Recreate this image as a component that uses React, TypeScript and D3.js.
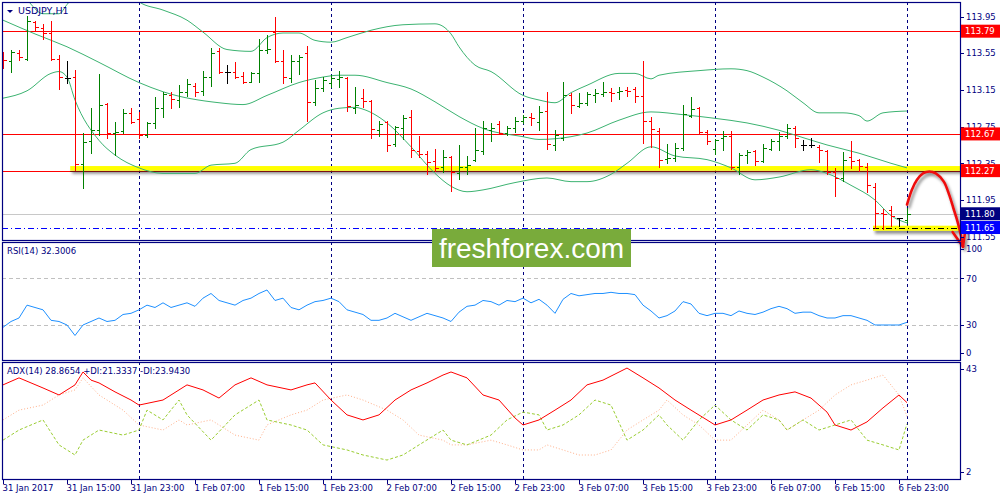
import React from "react";
import * as d3 from "d3";

// ---------- DATA ----------
const barOpen = [113.53,113.46,113.55,113.49,113.89,113.82,113.77,113.49,113.28,113.29,112.34,112.59,112.71,113.00,112.68,112.70,112.90,112.83,112.66,112.79,112.95,113.09,113.04,113.13,113.19,113.14,113.29,113.57,113.34,113.34,113.30,113.24,113.33,113.59,113.785,113.46,113.28,113.46,113.55,113.02,113.17,113.22,113.27,113.28,112.95,113.06,113.03,112.71,112.80,112.56,112.74,112.86,112.48,112.45,112.37,112.31,112.42,112.24,112.31,112.39,112.48,112.71,112.78,112.68,112.73,112.81,112.86,112.80,112.92,112.55,112.63,113.09,112.97,113.01,113.09,113.11,113.13,113.13,113.15,113.16,113.08,112.81,112.705,112.40,112.41,112.52,112.87,112.95,112.69,112.51,112.63,112.65,112.31,112.44,112.48,112.38,112.51,112.59,112.65,112.73,112.55,112.55,112.53,112.48,112.25,112.19,112.42,112.39,112.31,112.095,111.805,111.84,111.75,111.73];
const barHigh = [113.56,113.59,113.59,113.96,113.90,113.87,113.90,113.53,113.47,113.37,112.68,112.95,113.32,113.01,112.80,112.94,112.95,112.91,112.80,113.07,113.13,113.13,113.20,113.27,113.23,113.36,113.61,113.61,113.42,113.45,113.35,113.34,113.71,113.75,113.94,113.59,113.53,113.53,113.63,113.26,113.29,113.31,113.36,113.29,113.18,113.16,113.04,112.81,112.81,112.76,112.88,112.93,112.65,112.48,112.51,112.49,112.43,112.55,112.43,112.73,112.81,112.79,112.81,112.76,112.85,112.88,112.90,112.97,113.13,112.71,113.24,113.12,113.12,113.13,113.16,113.24,113.17,113.18,113.18,113.18,113.46,112.86,112.73,112.56,112.575,112.99,113.07,112.96,112.71,112.61,112.705,112.705,112.46,112.49,112.49,112.56,112.61,112.695,112.78,112.76,112.60,112.63,112.55,112.49,112.30,112.47,112.59,112.40,112.35,112.14,111.85,111.88,111.75,111.86];
const barLow = [113.39,113.34,113.48,113.48,113.80,113.71,113.48,113.16,113.23,112.28,112.08,112.46,112.66,112.63,112.44,112.68,112.79,112.63,112.64,112.73,112.86,112.95,112.96,113.08,113.08,113.09,113.19,113.33,113.23,113.28,113.23,113.24,113.24,113.55,113.45,113.23,113.24,113.32,112.81,112.99,113.14,113.18,113.18,112.92,112.90,112.96,112.63,112.65,112.48,112.54,112.62,112.42,112.42,112.23,112.27,112.26,112.05,112.18,112.23,112.37,112.45,112.59,112.67,112.66,112.69,112.79,112.77,112.71,112.51,112.50,112.60,112.90,112.96,112.99,113.02,113.08,113.03,113.05,113.08,113.02,112.575,112.53,112.31,112.35,112.38,112.49,112.85,112.68,112.56,112.45,112.49,112.285,112.23,112.35,112.33,112.36,112.49,112.49,112.63,112.525,112.50,112.525,112.36,112.23,111.99,112.16,112.30,112.27,112.04,111.64,111.63,111.67,111.67,111.70];
const barClose = [113.48,113.56,113.51,113.90,113.84,113.77,113.49,113.29,113.28,112.34,112.58,112.71,112.99,112.68,112.69,112.90,112.80,112.66,112.79,112.95,113.11,113.05,113.13,113.21,113.13,113.29,113.55,113.34,113.34,113.29,113.24,113.33,113.59,113.60,113.46,113.29,113.46,113.51,113.02,113.17,113.26,113.28,113.29,112.97,112.99,113.03,112.72,112.78,112.55,112.75,112.84,112.49,112.45,112.36,112.30,112.42,112.25,112.31,112.33,112.50,112.73,112.74,112.68,112.73,112.81,112.86,112.84,112.91,112.56,112.66,113.09,112.99,113.01,113.11,113.12,113.13,113.12,113.14,113.14,113.08,112.81,112.72,112.39,112.41,112.52,112.89,112.94,112.69,112.59,112.60,112.65,112.31,112.44,112.47,112.38,112.52,112.59,112.65,112.73,112.63,112.55,112.55,112.49,112.25,112.19,112.39,112.37,112.32,112.11,111.81,111.80,111.78,111.75,111.80];

// Bollinger bands (bar index, price)
const bbUpper: [number, number][] = [[0,114.40],[3,114.13],[5,113.98],[7,113.98],[8,114.08],[10,114.29],[14,114.40],[17,114.11],[20,114.02],[23,113.91],[25,113.78],[28,113.59],[31,113.57],[33,113.72],[35,113.77],[37,113.77],[39,113.69],[41,113.67],[43,113.72],[46,113.80],[50,113.86],[54,113.87],[56,113.76],[57,113.62],[59,113.42],[61,113.35],[65,113.09],[67,113.04],[69,113.01],[71,113.12],[73,113.20],[77,113.33],[79,113.33],[81,113.27],[82,113.31],[87,113.36],[91,113.38],[93,113.36],[95,113.29],[98,113.14],[100,113.01],[102,112.90],[105,112.90],[107,112.87],[108,112.81],[110,112.90],[113,112.92]];
const bbMiddle: [number, number][] = [[0,113.91],[4,113.76],[8,113.62],[12,113.45],[17,113.23],[20,113.13],[27,113.01],[30,112.99],[33,113.09],[37,113.23],[40,113.29],[42,113.31],[44,113.31],[48,113.23],[51,113.16],[54,113.02],[57,112.86],[60,112.73],[65,112.64],[67,112.61],[71,112.64],[73,112.68],[77,112.82],[81,112.91],[85,112.88],[89,112.84],[93,112.79],[97,112.71],[100,112.63],[103,112.55],[107,112.46],[111,112.35],[113,112.30]];
const bbLower: [number, number][] = [[0,113.06],[3,113.14],[6,113.33],[7,113.35],[8,113.29],[9,113.04],[12,112.60],[14,112.44],[17,112.30],[20,112.24],[24,112.24],[26,112.33],[29,112.35],[31,112.50],[35,112.58],[37,112.71],[40,112.90],[42,112.95],[44,112.96],[45,112.94],[48,112.79],[51,112.53],[54,112.24],[56,112.10],[58,112.04],[60,112.06],[64,112.14],[68,112.19],[71,112.15],[73,112.15],[76,112.23],[78,112.35],[81,112.53],[84,112.43],[88,112.39],[91,112.30],[94,112.17],[97,112.20],[101,112.28],[103,112.24],[106,112.11],[109,111.95],[111,111.78],[113,111.70]];

const rsiValues = [28,33,36,47,45,43,34,33,30,21,30,33,36,33,34,39,40,43,47,45,49,45,47,49,46,53,57,51,49,47,51,53,57,60,51,53,45,43,47,50,51,53,50,43,41,39,34,34,36,40,37,34,37,40,38,36,33,41,46,47,51,50,47,51,50,53,49,52,47,40,52,57,55,56,57,57,58,57,57,56,47,42,36,38,42,50,48,40,38,40,40,38,42,40,39,41,44,46,44,40,41,41,38,36,36,38,38,36,34,30,30,30,30,32.3];

const adxPts: [number, number][] = [[0,35.2],[2,37.7],[5,34.1],[7,31.6],[9,35.2],[10,39.8],[11,36.9],[12,35.9],[14,32.7],[16,29.8],[17,28.0],[20,29.8],[22,33.4],[23,35.2],[25,33.4],[27,30.5],[29,35.2],[31,37.7],[33,35.2],[36,33.4],[38,35.2],[39,35.9],[41,29.8],[43,24.5],[45,22.7],[47,24.5],[49,29.8],[51,33.4],[53,35.9],[55,38.7],[56,39.8],[58,37.7],[60,31.6],[62,29.8],[64,23.4],[65,20.9],[67,22.7],[69,26.2],[71,29.8],[73,35.2],[75,36.9],[78,41.2],[80,37.7],[82,34.1],[84,29.8],[86,26.2],[88,22.7],[89,20.9],[91,22.7],[93,26.2],[95,29.8],[97,31.6],[99,32.7],[101,30.5],[103,25.5],[104,20.9],[106,19.1],[108,22.0],[110,27.0],[112,31.6],[113,28.87]];
const plusDiPts: [number, number][] = [[0,15.5],[2,19.1],[5,22.7],[7,13.8],[9,10.2],[10,15.5],[12,19.1],[15,17.3],[17,19.1],[18,26.2],[20,22.7],[22,29.8],[23,24.5],[26,15.5],[29,24.5],[32,29.8],[33,22.7],[36,20.9],[38,19.1],[40,13.8],[43,12.0],[45,10.2],[48,8.4],[50,10.2],[52,13.8],[55,19.1],[56,15.5],[58,13.8],[61,17.3],[63,22.7],[65,25.5],[67,24.5],[68,19.1],[70,20.9],[72,24.5],[74,29.8],[76,28.0],[78,15.5],[80,19.1],[82,24.5],[83,20.9],[85,15.5],[87,22.7],[89,28.0],[91,22.7],[93,19.1],[95,24.5],[97,22.7],[98,19.1],[100,22.7],[102,19.1],[104,20.9],[106,22.7],[108,15.5],[110,13.8],[112,12.0],[113,21.33]];
const minusDiPts: [number, number][] = [[0,22.7],[2,26.2],[5,28.0],[7,31.6],[9,33.4],[10,37.7],[12,31.6],[15,26.2],[17,20.9],[20,19.1],[22,22.7],[23,20.9],[26,22.7],[29,17.3],[32,15.5],[33,20.9],[36,24.5],[38,26.2],[40,29.8],[43,31.6],[45,29.8],[48,26.2],[50,22.7],[52,17.3],[55,15.5],[56,13.8],[58,13.8],[61,15.5],[63,13.8],[65,12.0],[67,12.0],[68,13.8],[70,12.0],[72,10.2],[74,10.2],[76,12.0],[78,19.1],[80,22.7],[82,26.2],[83,29.8],[85,24.5],[87,20.9],[89,15.5],[91,15.5],[93,20.9],[95,26.2],[97,22.7],[98,19.1],[100,22.7],[102,26.2],[104,31.6],[106,35.2],[108,36.9],[110,38.7],[112,31.6],[113,23.94]];

const timeLabels = ["31 Jan 2017","31 Jan 15:00","31 Jan 23:00","1 Feb 07:00","1 Feb 15:00","1 Feb 23:00","2 Feb 07:00","2 Feb 15:00","2 Feb 23:00","3 Feb 07:00","3 Feb 15:00","3 Feb 23:00","6 Feb 07:00","6 Feb 15:00","6 Feb 23:00"];
const timeLabelStep = 8;
const daySeparators = [17, 41, 65, 89, 113];
const priceTicks = [113.95, 113.55, 113.15, 112.75, 112.35, 111.95, 111.55];
const redLevels = [113.79, 112.67, 112.27];
const bidPrice = 111.80;
const supportLevel = 111.65;
const rsiLevels = [70, 30];
const rsiTicks = [100, 70, 30, 0];
const adxTicks = [43, 2];
const zones = [
  { from: 8.4, to: 121, top: 112.32, bottom: 112.27 },
  { from: 108.75, to: 121, top: 111.67, bottom: 111.615 },
];
// hand-drawn forecast arrow (bar index, price)
const arrowPath: [number, number][] = [[113, 111.90], [113.6, 112.06], [114.25, 112.17], [115, 112.24], [115.8, 112.26], [116.6, 112.24], [117.6, 112.15], [118.3, 112.00], [118.8, 111.86], [119.3, 111.72], [119.75, 111.56], [120, 111.44]];
const arrowHead: [number, number][] = [[118.7, 111.60], [120, 111.44], [120.35, 111.66]];

// ---------- LAYOUT ----------
const W = 1000, H = 500;
const L = 2, R = 960;
const mainTop = 2, mainBot = 240;
const rsiTop = 242, rsiBot = 360;
const adxTop = 362, adxBot = 479;
const FONT = "DejaVu Sans, Verdana, sans-serif";
const NAVY = "#000080";

export default function App() {
  const x = d3.scaleLinear().domain([0, 113]).range([3, 907]);
  const yP = d3.scaleLinear().domain([111.55, 113.95]).range([236.7, 16.5]);
  const yR = d3.scaleLinear().domain([0, 100]).range([360, 243.3]);
  const yA = d3.scaleLinear().domain([2, 43]).range([478, 363]);

  const bbLine = d3.line<[number, number]>().x(d => x(d[0])).y(d => yP(d[1])).curve(d3.curveMonotoneX);
  const rsiLine = d3.line<number>().x((_, i) => x(i)).y(d => yR(d));
  const adxLine = d3.line<[number, number]>().x(d => x(d[0])).y(d => yA(d[1]));
  const arrowLine = d3.line<[number, number]>().x(d => x(d[0])).y(d => yP(d[1])).curve(d3.curveCatmullRom);
  const headLine = d3.line<[number, number]>().x(d => x(d[0])).y(d => yP(d[1]));

  const clampLabel = (v: number, top: number, bot: number) => Math.max(top + 7, Math.min(bot - 7, v));
  const px = (v: number) => Math.round(v) + 0.5;

  const boxLabel = (price: number, fill: string, key: string) => {
    const cy = yP(price);
    return (
      <g key={key}>
        <rect x={961} y={cy - 6.5} width={39} height={13} fill={fill} />
        <text x={965} y={cy + 3.2} fill="#fff" fontSize={8.5} fontFamily={FONT}>{price.toFixed(2)}</text>
      </g>
    );
  };

  return (
    <svg width={W} height={H} style={{ position: "absolute", left: 0, top: 0, background: "#fff" }}>
      <defs>
        <clipPath id="cMain"><rect x={L} y={mainTop} width={R - L} height={mainBot - mainTop} /></clipPath>
        <clipPath id="cRsi"><rect x={L} y={rsiTop} width={R - L} height={rsiBot - rsiTop} /></clipPath>
        <clipPath id="cAdx"><rect x={L} y={adxTop} width={R - L} height={adxBot - adxTop} /></clipPath>
        <filter id="shadow" x="-10%" y="-50%" width="130%" height="300%">
          <feDropShadow dx={2} dy={3} stdDeviation={1.6} floodColor="#000" floodOpacity={0.45} />
        </filter>
      </defs>
      <rect x={0} y={0} width={W} height={H} fill="#fff" />

      {/* day separators */}
      {daySeparators.map(d => (
        <line key={"ds" + d} x1={px(x(d))} x2={px(x(d))} y1={mainTop} y2={adxBot} stroke={NAVY} strokeDasharray="3,3" strokeWidth={1} />
      ))}

      {/* MAIN PANEL */}
      <g clipPath="url(#cMain)">
        <line x1={L} x2={R} y1={px(yP(bidPrice))} y2={px(yP(bidPrice))} stroke="#c8c8c8" />
        {redLevels.map(v => (
          <line key={"rl" + v} x1={L} x2={R} y1={px(yP(v))} y2={px(yP(v))} stroke="#ff0000" strokeWidth={1} />
        ))}
        {zones.map((z, i) => (
          <rect key={"z" + i} x={x(z.from)} y={yP(z.top)} width={x(z.to) - x(z.from)} height={yP(z.bottom) - yP(z.top)} fill="#ffff00" filter="url(#shadow)" />
        ))}
        <line x1={x(zones[0].from)} x2={R} y1={px(yP(redLevels[2]))} y2={px(yP(redLevels[2]))} stroke="#7a1010" strokeWidth={1} />
        <line x1={L} x2={x(zones[1].from)} y1={px(yP(supportLevel))} y2={px(yP(supportLevel))} stroke="#0000ff" strokeDasharray="6,3,1,3" />
        <line x1={x(zones[1].from)} x2={R} y1={px(yP(supportLevel))} y2={px(yP(supportLevel))} stroke="#000" strokeDasharray="6,3,1,3" />

        <path d={bbLine(bbUpper) || ""} fill="none" stroke="#3cb371" strokeWidth={1} />
        <path d={bbLine(bbMiddle) || ""} fill="none" stroke="#3cb371" strokeWidth={1} />
        <path d={bbLine(bbLower) || ""} fill="none" stroke="#3cb371" strokeWidth={1} />

        {barOpen.map((o, i) => {
          const c = barClose[i];
          const col = c > o ? "#008000" : c < o ? "#ff0000" : "#000000";
          const cx = px(x(i));
          return (
            <g key={"b" + i} stroke={col} strokeWidth={1} shapeRendering="crispEdges">
              <line x1={cx} x2={cx} y1={yP(barHigh[i])} y2={yP(barLow[i]) + 1} />
              <line x1={cx - 3} x2={cx} y1={px(yP(o))} y2={px(yP(o))} />
              <line x1={cx} x2={cx + 3} y1={px(yP(c))} y2={px(yP(c))} />
            </g>
          );
        })}
      </g>

      {/* forecast arrow */}
      <g filter="url(#shadow)">
        <path d={arrowLine(arrowPath) || ""} fill="none" stroke="#ee1111" strokeWidth={2.6} strokeLinecap="round" />
        <path d={headLine(arrowHead) || ""} fill="none" stroke="#ee1111" strokeWidth={2.6} strokeLinecap="round" strokeLinejoin="round" />
      </g>

      {/* RSI PANEL */}
      {rsiLevels.map(v => (
        <line key={"rsl" + v} x1={L} x2={R} y1={px(yR(v))} y2={px(yR(v))} stroke="#c0c0c0" strokeDasharray="4,3" />
      ))}
      <g clipPath="url(#cRsi)">
        <path d={rsiLine(rsiValues) || ""} fill="none" stroke="#1e90ff" strokeWidth={1} />
      </g>

      {/* ADX PANEL */}
      <g clipPath="url(#cAdx)">
        <path d={adxLine(minusDiPts) || ""} fill="none" stroke="#ffb08a" strokeWidth={1} strokeDasharray="1,2" />
        <path d={adxLine(plusDiPts) || ""} fill="none" stroke="#9acd32" strokeWidth={1} strokeDasharray="3,2" />
        <path d={adxLine(adxPts) || ""} fill="none" stroke="#ff0000" strokeWidth={1} />
      </g>

      {/* frames */}
      <rect x={L + 0.5} y={mainTop + 0.5} width={R - L} height={mainBot - mainTop} fill="none" stroke={NAVY} strokeWidth={1.2} />
      <rect x={L + 0.5} y={rsiTop + 0.5} width={R - L} height={rsiBot - rsiTop} fill="none" stroke={NAVY} strokeWidth={1.2} />
      <rect x={L + 0.5} y={adxTop + 0.5} width={R - L} height={adxBot - adxTop} fill="none" stroke={NAVY} strokeWidth={1.2} />

      {/* price axis */}
      {priceTicks.map(v => (
        <g key={"pt" + v}>
          <line x1={R} x2={R + 4} y1={px(yP(v))} y2={px(yP(v))} stroke={NAVY} />
          <text x={966} y={yP(v) + 3.2} fill={NAVY} fontSize={8.5} fontFamily={FONT}>{v.toFixed(2)}</text>
        </g>
      ))}
      {boxLabel(redLevels[0], "#ff0000", "bl0")}
      {boxLabel(redLevels[1], "#ff0000", "bl1")}
      {boxLabel(redLevels[2], "#ff0000", "bl2")}
      {boxLabel(bidPrice, "#000080", "bl3")}
      {boxLabel(supportLevel, "#0000ff", "bl4")}

      {/* RSI axis */}
      {rsiTicks.map(v => (
        <g key={"rt" + v}>
          <line x1={R} x2={R + 4} y1={px(clampLabel(yR(v), rsiTop, rsiBot))} y2={px(clampLabel(yR(v), rsiTop, rsiBot))} stroke={NAVY} />
          <text x={966} y={clampLabel(yR(v), rsiTop, rsiBot) + 3.2} fill={NAVY} fontSize={8.5} fontFamily={FONT}>{v}</text>
        </g>
      ))}
      {adxTicks.map(v => (
        <g key={"at" + v}>
          <line x1={R} x2={R + 4} y1={px(clampLabel(yA(v), adxTop, adxBot))} y2={px(clampLabel(yA(v), adxTop, adxBot))} stroke={NAVY} />
          <text x={966} y={clampLabel(yA(v), adxTop, adxBot) + 3.2} fill={NAVY} fontSize={8.5} fontFamily={FONT}>{v}</text>
        </g>
      ))}

      {/* time axis */}
      {timeLabels.map((t, i) => {
        const tx = px(x(i * timeLabelStep));
        return (
          <g key={"tl" + i}>
            <line x1={tx} x2={tx} y1={adxBot} y2={adxBot + 5} stroke={NAVY} />
            <text x={tx - 1} y={491} fill={NAVY} fontSize={8.5} fontFamily={FONT}>{t}</text>
          </g>
        );
      })}

      {/* panel titles */}
      <path d="M7,10 L13,10 L10,13 Z" fill={NAVY} />
      <text x={18} y={14} fill={NAVY} fontSize={9.5} fontFamily={FONT}>USDJPY,H1</text>
      <text x={7} y={254} fill={NAVY} fontSize={8.5} fontFamily={FONT}>RSI(14) 32.3006</text>
      <text x={7} y={374} fill={NAVY} fontSize={8.5} fontFamily={FONT}>ADX(14) 28.8654 +DI:21.3337 -DI:23.9430</text>

      {/* watermark */}
      <rect x={432} y={229} width={199} height={38} fill="#79ab3b" />
      <text x={531.5} y={258} textAnchor="middle" fill="#fff" fontSize={28} fontFamily="Liberation Sans, Arial, sans-serif">freshforex.com</text>
    </svg>
  );
}
